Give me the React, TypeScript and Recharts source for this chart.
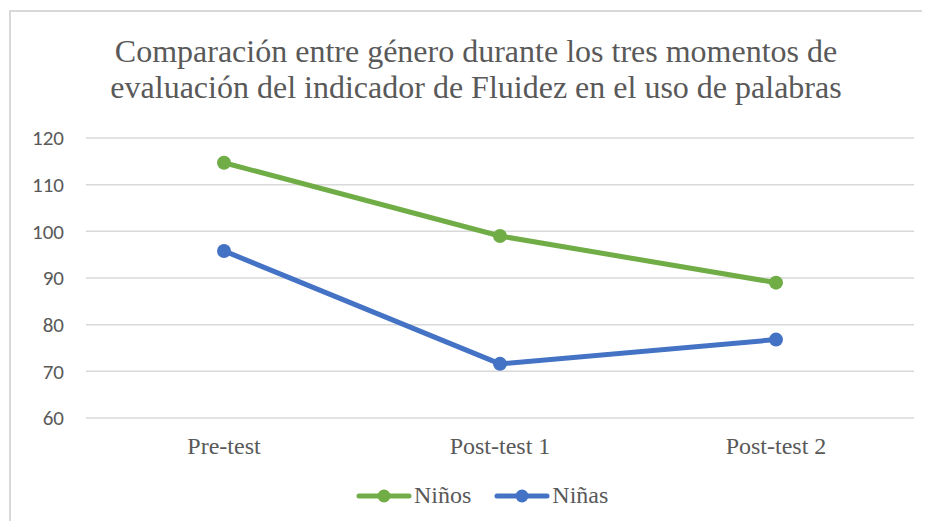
import { LineChart, Line, XAxis, YAxis, CartesianGrid } from "recharts";

const categories = ["Pre-test", "Post-test 1", "Post-test 2"];
const ninos = [114.7, 99, 89];
const ninas = [95.8, 71.6, 76.8];
const yTicks = [60, 70, 80, 90, 100, 110, 120];

const GREEN = "#70AD47";
const BLUE = "#4472C4";
const TEXT = "#595959";
const SERIF = "'Liberation Serif', 'Times New Roman', serif";
const SANS = "Carlito, 'Open Sans', 'Liberation Sans', sans-serif";

const data = categories.map((c, i) => ({ name: c, ninos: ninos[i], ninas: ninas[i] }));

function LegendItem({ color, label }: { color: string; label: string }) {
  return (
    <div style={{ display: "flex", alignItems: "center", marginRight: 22 }}>
      <svg width={58} height={14}>
        <line x1={4} y1={7} x2={54} y2={7} stroke={color} strokeWidth={5} strokeLinecap="round" />
        <circle cx={29} cy={7} r={6.5} fill={color} />
      </svg>
      <span style={{ marginLeft: 1 }}>{label}</span>
    </div>
  );
}

export default function App() {
  return (
    <div
      style={{
        position: "relative",
        margin: -8,
        width: 930,
        height: 529,
        overflow: "hidden",
        background: "#fff",
      }}
    >
      {/* bit of the document text above the figure */}
      <div
        style={{
          position: "absolute",
          left: 640,
          top: -22,
          fontFamily: SERIF,
          fontSize: 24,
          color: "#000",
        }}
      >
        p
      </div>
      <div
        style={{
          position: "absolute",
          left: 9,
          top: 10,
          width: 921,
          height: 519,
          borderTop: "2px solid #D9D9D9",
          borderLeft: "2px solid #D9D9D9",
        }}
      />
      <div
        style={{
          position: "absolute",
          left: 10,
          top: 33,
          width: 932,
          textAlign: "center",
          fontFamily: SERIF,
          fontSize: 32,
          lineHeight: "36px",
          color: TEXT,
        }}
      >
        Comparación entre género durante los tres momentos de
        <br />
        evaluación del indicador de Fluidez en el uso de palabras
      </div>
      <div style={{ position: "absolute", left: 0, top: 0 }}>
        <LineChart
          width={930}
          height={529}
          data={data}
          margin={{ top: 138, right: 16, left: 26, bottom: 70 }}
        >
          <CartesianGrid vertical={false} stroke="#D9D9D9" strokeWidth={1.5} />
          <XAxis
            dataKey="name"
            axisLine={false}
            tickLine={false}
            padding={{ left: 138, right: 138 }}
            tickMargin={13}
            tick={{ fill: TEXT, fontSize: 24, fontFamily: SERIF }}
            height={41}
          />
          <YAxis
            domain={[60, 120]}
            ticks={yTicks}
            axisLine={false}
            tickLine={false}
            width={60}
            tickMargin={16}
            tick={{ fill: TEXT, fontSize: 21, fontFamily: SANS }}
          />
          <Line
            dataKey="ninos"
            name="Niños"
            stroke={GREEN}
            strokeWidth={5}
            dot={{ r: 7, fill: GREEN, stroke: GREEN, strokeWidth: 0 }}
            isAnimationActive={false}
          />
          <Line
            dataKey="ninas"
            name="Niñas"
            stroke={BLUE}
            strokeWidth={5}
            dot={{ r: 7, fill: BLUE, stroke: BLUE, strokeWidth: 0 }}
            isAnimationActive={false}
          />
        </LineChart>
      </div>
      <div
        style={{
          position: "absolute",
          left: 355,
          top: 482,
          display: "flex",
          fontFamily: SERIF,
          fontSize: 24,
          color: TEXT,
        }}
      >
        <LegendItem color={GREEN} label="Niños" />
        <LegendItem color={BLUE} label="Niñas" />
      </div>
    </div>
  );
}
